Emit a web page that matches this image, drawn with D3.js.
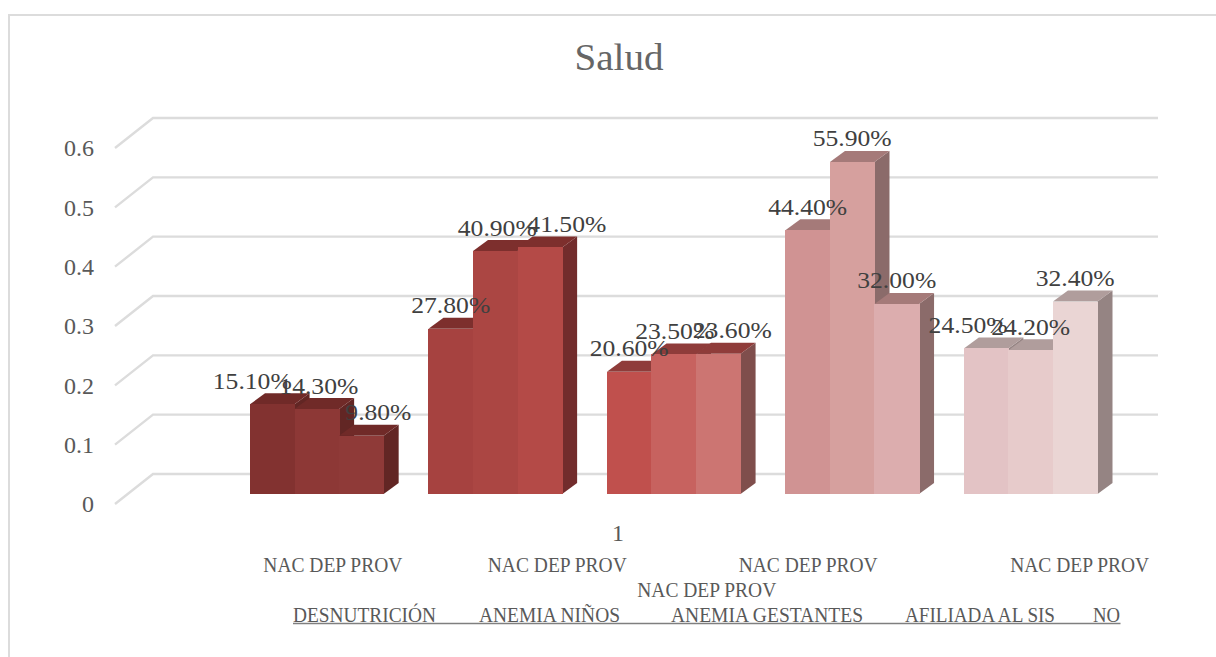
<!DOCTYPE html>
<html><head><meta charset="utf-8">
<script src="https://cdn.jsdelivr.net/npm/d3@7"></script>
<style>html,body{margin:0;padding:0;background:#fff;overflow:hidden}svg{display:block}text{font-family:"Liberation Serif",serif}</style>
</head><body><svg id="c" width="1216" height="657"></svg>
<script>
const title = "Salud";
const categories = ["DESNUTRICIÓN","ANEMIA NIÑOS","ANEMIA GESTANTES","AFILIADA AL SIS","NO"];
const subLabel = "NAC DEP PROV";
const seriesNames = ["NAC","DEP","PROV"];
const nacValues  = [0.151,0.278,0.206,0.444,0.245];
const depValues  = [0.143,0.409,0.235,0.559,0.242];
const provValues = [0.098,0.415,0.236,0.320,0.324];
const yTicks = [0,0.1,0.2,0.3,0.4,0.5,0.6];
const axisLabel = "1";

// colours
const frontColors = [["#823230","#8d3836","#8f3a38"],["#a64240","#ab4643","#b44a47"],["#c0504d","#c7625f","#cc7572"],["#d09393","#d6a09e","#dcadae"],["#e3c3c5","#e7cbcb","#ead5d4"]];
const sideColors = ["#622624","#722c2c","#7f4e4c","#8b6b6a","#958483"];
const topColors = ["#702a28","#7d2f2d","#8f3c3a","#a57a79","#b09d9c"];

// manual label nudges of the original chart
const labelNudge = [[-20,2,17],[0,2,27],[0,1,14],[0,0,0],[-18,0,0]];
const subNudge = [16,62,33,-44,49];
const subRowLow = [false,false,true,false,false];
const catCenters = [364.5,549.5,767,980,1106.5];

const svg = d3.select("#c");
const depth = {x:15,y:11};
const wall = {x:38,y:30};
const yScale = d3.scaleLinear().domain([0,0.6]).range([494,137.6]);
const yWall = d3.scaleLinear().domain([0,0.6]).range([504,148]);
const groupX = d3.scaleBand().domain(categories).range([250,1097.5]).paddingInner(0.251).paddingOuter(0);
const barX = d3.scaleBand().domain(seriesNames).range([0,groupX.bandwidth()]);

// frame
svg.append("path").attr("d","M9,657V15H1216").attr("fill","none").attr("stroke","#dcdcdc").attr("stroke-width",2);

// title
svg.append("text").attr("x",619).attr("y",70).attr("text-anchor","middle").attr("font-size",37).attr("fill","#666").attr("textLength",89).attr("lengthAdjust","spacingAndGlyphs").text(title);

// wall gridlines
svg.append("g").selectAll("path").data(yTicks).join("path")
  .attr("d",d=>`M115,${yWall(d)}L${115+wall.x},${yWall(d)-wall.y}H1158`)
  .attr("fill","none").attr("stroke","#dcdcdc").attr("stroke-width",2.4);

// y axis
const ax = svg.append("g").attr("transform","translate(100,0)")
  .call(d3.axisLeft(yWall).tickValues(yTicks).tickSize(0).tickPadding(6).tickFormat(d=>String(d)));
ax.select(".domain").remove();
ax.selectAll("text").attr("font-size",24).attr("fill","#595959").style("font-family",'"Liberation Serif",serif');

// bars
const valueLists = [nacValues,depValues,provValues];
const bars = [];
categories.forEach((c,g)=>seriesNames.forEach((s,i)=>bars.push({c,g,s,i,v:valueLists[i][g]})));
const bx = d=>groupX(d.c)+barX(d.s), w = barX.bandwidth();
const marks = svg.append("g").selectAll("g").data(bars).join("g");
marks.append("path").attr("fill",d=>sideColors[d.g])
  .attr("d",d=>{const x=bx(d)+w,y=yScale(d.v),b=yScale(0);return `M${x},${y}l${depth.x},${-depth.y}V${b-depth.y}L${x},${b}Z`;});
marks.append("path").attr("fill",d=>topColors[d.g])
  .attr("d",d=>{const x=bx(d),y=yScale(d.v);return `M${x},${y}l${depth.x},${-depth.y}h${w}l${-depth.x},${depth.y}Z`;});
marks.append("rect").attr("fill",d=>frontColors[d.g][d.i]).attr("shape-rendering","crispEdges")
  .attr("x",bx).attr("y",d=>yScale(d.v)).attr("width",w+0.5).attr("height",d=>yScale(0)-yScale(d.v));

// data labels
svg.append("g").selectAll("text").data(bars).join("text")
  .attr("x",d=>bx(d)+w/2+labelNudge[d.g][d.i]).attr("y",d=>yScale(d.v)-15.5)
  .attr("text-anchor","middle").attr("font-size",24).attr("fill","#404040")
  .attr("textLength",d=>d.v<0.1?66:79).attr("lengthAdjust","spacingAndGlyphs")
  .text(d=>(d.v*100).toFixed(2)+"%");

// category axis
svg.append("text").attr("x",618).attr("y",541).attr("text-anchor","middle").attr("font-size",24).attr("fill","#595959").text(axisLabel);
svg.append("g").selectAll("text").data(categories).join("text")
  .attr("x",(d,i)=>groupX(d)+groupX.bandwidth()/2+subNudge[i]).attr("y",(d,i)=>subRowLow[i]?597:571.5)
  .attr("text-anchor","middle").attr("font-size",20).attr("fill","#595959")
  .attr("textLength",139).attr("lengthAdjust","spacingAndGlyphs").text(subLabel);
const catWidths = [143,141,192,150,27];
svg.append("g").selectAll("text").data(categories).join("text")
  .attr("x",(d,i)=>catCenters[i]).attr("y",621.5)
  .attr("text-anchor","middle").attr("font-size",20).attr("fill","#595959")
  .attr("textLength",(d,i)=>catWidths[i]).attr("lengthAdjust","spacingAndGlyphs").text(d=>d);
svg.append("line").attr("x1",293).attr("x2",1120.5).attr("y1",623.5).attr("y2",623.5).attr("stroke","#7f7f7f").attr("stroke-width",1.6);
</script></body></html>
